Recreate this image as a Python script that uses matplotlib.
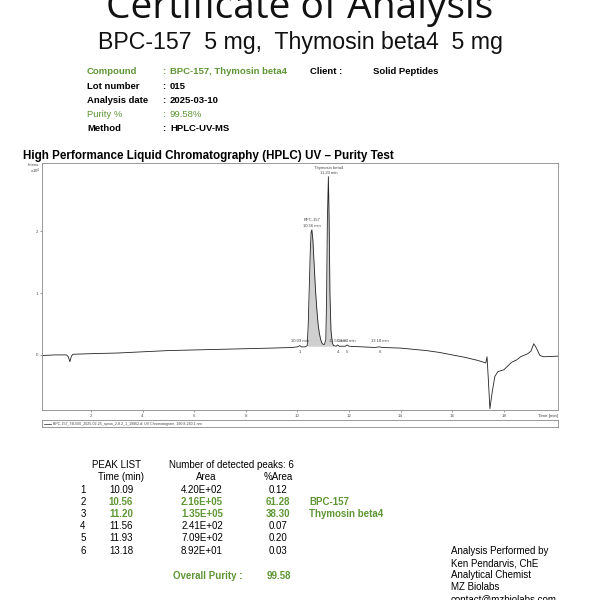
import numpy as np
import matplotlib
matplotlib.use('Agg')
import matplotlib.pyplot as plt

green = '#5f9634'

# chromatogram trace (time in min, intensity x10^4)
t = [0.1, 0.6, 1.05, 1.12, 1.18, 1.24, 1.3, 2.0, 3.0, 4.0, 5.0, 6.0, 7.0, 8.0, 9.0, 9.8,
     10.0, 10.09, 10.15, 10.3, 10.38, 10.42, 10.46, 10.5, 10.53, 10.56, 10.6, 10.65, 10.7,
     10.75, 10.8, 10.85, 10.9, 10.95, 11.0, 11.05, 11.1, 11.13, 11.16, 11.2, 11.23, 11.26,
     11.3, 11.35, 11.4, 11.5, 11.56, 11.62, 11.85, 11.93, 12.0, 12.5, 13.0, 13.18, 13.3,
     14.0, 15.0, 15.5, 16.0, 16.5, 17.0, 17.3, 17.35, 17.4, 17.46, 17.55, 17.65, 17.77,
     18.0, 18.15, 18.3, 18.5, 18.65, 18.93, 19.05, 19.16, 19.25, 19.4, 19.55, 20.1]
inten = [-0.01, 0.0, 0.0, -0.03, -0.11, -0.02, 0.01, 0.02, 0.03, 0.05, 0.07, 0.08, 0.09,
         0.10, 0.11, 0.12, 0.13, 0.15, 0.13, 0.13, 0.15, 0.5, 1.1, 1.7, 1.98, 2.02, 1.85,
         1.45, 1.05, 0.75, 0.5, 0.35, 0.25, 0.19, 0.17, 0.17, 0.25, 0.9, 2.15, 2.88, 2.15,
         1.0, 0.4, 0.2, 0.15, 0.14, 0.16, 0.14, 0.14, 0.16, 0.14, 0.13, 0.12, 0.13, 0.12,
         0.11, 0.07, 0.04, 0.0, -0.04, -0.09, -0.13, -0.03, -0.4, -0.87, -0.6, -0.35,
         -0.27, -0.24, -0.18, -0.12, -0.08, -0.03, 0.02, 0.06, 0.18, 0.12, -0.01, -0.03,
         -0.02]

# peak table
peak_no = [1, 2, 3, 4, 5, 6]
peak_time = ['10.09', '10.56', '11.20', '11.56', '11.93', '13.18']
peak_area = ['4.20E+02', '2.16E+05', '1.35E+05', '2.41E+02', '7.09E+02', '8.92E+01']
peak_pct = ['0.12', '61.28', '38.30', '0.07', '0.20', '0.03']
peak_name = ['', 'BPC-157', 'Thymosin beta4', '', '', '']

# header info
info_labels = ['Compound', 'Lot number', 'Analysis date', 'Purity %', 'Method']
info_values = ['BPC-157, Thymosin beta4', '015', '2025-03-10', '99.58%', 'HPLC-UV-MS']

sig_lines = ['Analysis Performed by', 'Ken Pendarvis, ChE', 'Analytical Chemist',
             'MZ Biolabs', 'contact@mzbiolabs.com']

plt.rcParams['font.family'] = ['Liberation Sans', 'DejaVu Sans']

fig = plt.figure(figsize=(6, 6), dpi=100)
W, H = 600.0, 600.0

def ftxt(x, y, s, **kw):
    # place text using pixel coords (y from top)
    fig.text(x / W, 1 - y / H, s, **kw)

# titles
ftxt(300, 18, 'Certificate of Analysis', ha='center', va='baseline', fontsize=28,
     family='Open Sans', color='#111111')
ftxt(300, 49, 'BPC-157  5 mg,  Thymosin beta4  5 mg', ha='center', va='baseline',
     fontsize=16.7, color='#111111')

# info block
for i, (lab, val) in enumerate(zip(info_labels, info_values)):
    y = 72 + i * 14.2
    col = green if lab in ('Compound', 'Purity %') else 'black'
    wt = 'normal' if lab == 'Purity %' else 'bold'
    ftxt(87, y, lab, fontsize=6.8, weight=wt, color=col, va='center')
    ftxt(162, y, ':', fontsize=6.8, weight=wt, color=col, va='center')
    ftxt(170, y, val, fontsize=6.8, weight=wt, color=col, va='center')
ftxt(310, 72, 'Client :', fontsize=6.8, weight='bold', va='center')
ftxt(373, 72, 'Solid Peptides', fontsize=6.8, weight='bold', va='center')

ftxt(23, 156, 'High Performance Liquid Chromatography (HPLC) UV \u2013 Purity Test',
     fontsize=8.37, weight='bold', va='center')

# chromatogram
ax = fig.add_axes([42 / W, 1 - 410 / H, 516 / W, 247 / H])
ax.plot(t, inten, color='#222222', lw=0.6)
t_arr = np.array(t)
y_arr = np.array(inten)
m = (t_arr >= 10.38) & (t_arr <= 11.4)
ax.fill_between(t_arr[m], y_arr[m], 0.14, color='#cfcfcf', lw=0)
ax.set_xlim(0.1, 20.1)
ax.set_ylim(-0.89, 3.1)
ax.set_xticks([2, 4, 6, 8, 10, 12, 14, 16, 18])
ax.set_yticks([0, 1, 2])
ax.tick_params(labelsize=3.2, length=1.5, width=0.4, colors='#555555', pad=1.5)
for s in ax.spines.values():
    s.set_color('#888888')
    s.set_linewidth(0.6)
ax.text(1.0, -0.018, 'Time [min]', transform=ax.transAxes, ha='right', va='top',
        fontsize=3.2, color='#444444')
ftxt(40, 165.5, 'Intens.', fontsize=3, ha='right', va='center', color='#444444')
ftxt(40, 171.5, 'x10$^4$', fontsize=3, ha='right', va='center', color='#444444')

# peak labels
ax.annotate('BPC-157\n10.56 min', (10.56, 2.02), xytext=(0, 1.5), textcoords='offset points',
            ha='center', va='bottom', fontsize=3, color='#444444', linespacing=1.5)
ax.annotate('Thymosin beta4\n11.20 min', (11.2, 2.88), xytext=(0, 1), textcoords='offset points',
            ha='center', va='bottom', fontsize=3, color='#444444', linespacing=1.5)
for tm, lab, num in [(10.09, '10.09 min', '1'), (11.56, '11.56 min', '4'),
                     (11.93, '11.93 min', '5'), (13.18, '13.18 min', '6')]:
    ax.text(tm, 0.2, lab, ha='center', va='bottom', fontsize=3, color='#444444')
    ax.text(tm, 0.08, num, ha='center', va='top', fontsize=3, color='#444444')

# legend strip under the chart
lax = fig.add_axes([42 / W, 1 - 427 / H, 516 / W, 7 / H])
lax.set_xticks([])
lax.set_yticks([])
for s in lax.spines.values():
    s.set_color('#888888')
    s.set_linewidth(0.6)
lax.plot([0.004, 0.018], [0.5, 0.5], color='#222222', lw=0.5)
lax.set_xlim(0, 1)
lax.set_ylim(0, 1)
lax.text(0.022, 0.5, 'BPC-157_TB-500_2025-02-25_sprun_2-8.2_1_19062.d: UV Chromatogram, 190.8-280.1 nm',
         fontsize=2.6, va='center', color='#444444')

# peak list
fs = 7
ftxt(116, 465, 'PEAK LIST', fontsize=fs, ha='center', va='center')
ftxt(169, 465, 'Number of detected peaks: 6', fontsize=fs, va='center')
ftxt(121, 477, 'Time (min)', fontsize=fs, ha='center', va='center')
ftxt(206, 477, 'Area', fontsize=fs, ha='center', va='center')
ftxt(278, 477, '%Area', fontsize=fs, ha='center', va='center')
for i in range(len(peak_no)):
    y = 490 + i * 12.1
    named = peak_name[i] != ''
    col = green if named else 'black'
    wt = 'bold' if named else 'normal'
    ftxt(83, y, str(peak_no[i]), fontsize=fs, ha='center', va='center')
    ftxt(121, y, peak_time[i], fontsize=fs, ha='center', va='center', color=col, weight=wt)
    ftxt(202, y, peak_area[i], fontsize=fs, ha='center', va='center', color=col, weight=wt)
    ftxt(278, y, peak_pct[i], fontsize=fs, ha='center', va='center', color=col, weight=wt)
    if named:
        ftxt(309, y, peak_name[i], fontsize=fs, va='center', color=col, weight=wt)
ftxt(173, 576, 'Overall Purity :', fontsize=fs, va='center', color=green, weight='bold')
ftxt(279, 576, '99.58', fontsize=fs, ha='center', va='center', color=green, weight='bold')

# signature block
for i, s in enumerate(sig_lines):
    ftxt(451, 551 + i * 12, s, fontsize=7, va='center')

fig.savefig('out.png', dpi=100)
